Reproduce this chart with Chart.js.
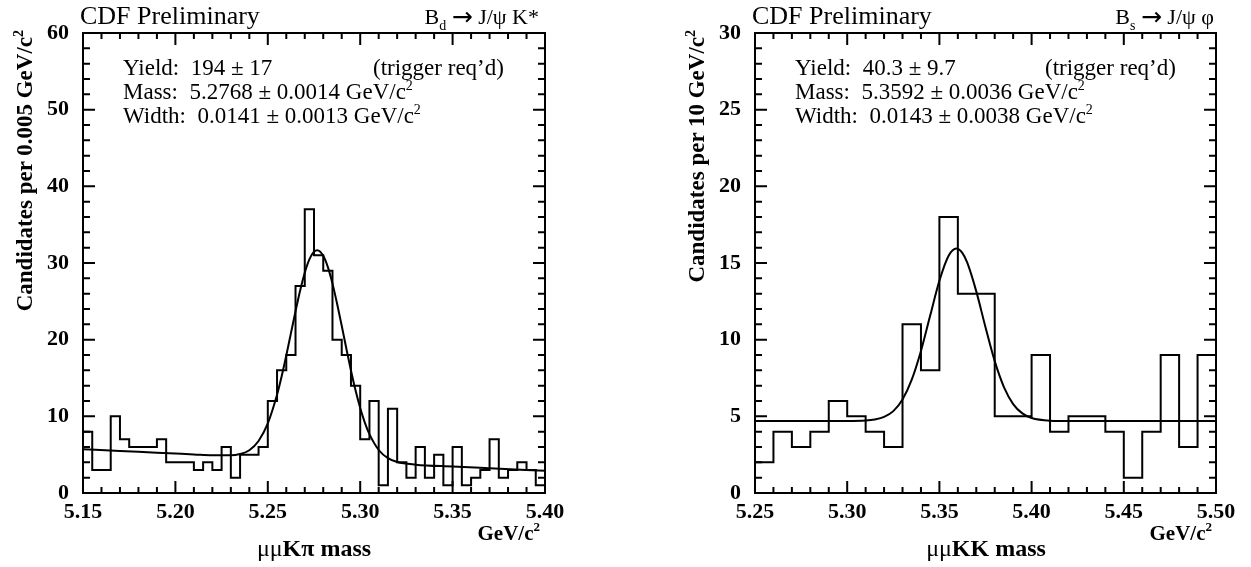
<!DOCTYPE html>
<html>
<head>
<meta charset="utf-8">
<script src="https://cdn.jsdelivr.net/npm/chart.js@4.4.1/dist/chart.umd.min.js"></script>
<style>
  html, body { margin:0; padding:0; background:#fff; }
  #fig { position:relative; width:1251px; height:567px; overflow:hidden;
         font-family:'Liberation Serif','Times New Roman',serif; color:#000; }
  canvas { position:absolute; top:0; }
  .panel { position:absolute; top:0; height:567px; width:600px; }
  .t { position:absolute; white-space:pre; line-height:1; }
  .cdf { font-size:26px; left:80px; top:3px; }
  .decay { font-size:22px; top:3px; width:260px; text-align:right; }
  .arr { font-family:'DejaVu Sans',sans-serif; font-size:25px; position:relative; top:1px; }
  .stat { font-size:23px; }
  .sup { position:relative; font-size:14px; top:-9px; }
  .sub { position:relative; font-size:14px; top:6px; }
  .ytitle { font-size:23px; font-weight:bold; left:12px; top:490px; width:460px; line-height:26px;
            text-align:right; transform-origin:0 0; transform:rotate(-90deg); }
  .xtitle { font-size:24px; font-weight:bold; left:174px; width:280px; top:536px; text-align:center; }
  .xunit { font-size:21px; font-weight:bold; left:400px; width:140px; top:523px; text-align:right; }
  .nb { font-weight:normal; }
</style>
</head>
<body>
<div id="fig">
  <canvas id="c-bd" width="625" height="567" style="left:0"></canvas>
  <canvas id="c-bs" width="579" height="567" style="left:672px"></canvas>

  <div class="panel" style="left:0">
    <div class="t cdf">CDF Preliminary</div>
    <div class="t decay" style="left:279px">B<span class="sub">d</span> <span class="arr">→</span> J/ψ K*</div>
    <div class="t stat" style="left:123px;top:56px">Yield:  194 ± 17</div>
    <div class="t stat" style="left:373px;top:56px">(trigger req’d)</div>
    <div class="t stat" style="left:123px;top:80px">Mass:  5.2768 ± 0.0014 GeV/c<span class="sup">2</span></div>
    <div class="t stat" style="left:123px;top:104px">Width:  0.0141 ± 0.0013 GeV/c<span class="sup">2</span></div>
    <div class="t ytitle">Candidates per 0.005 GeV/c<span class="sup" style="font-size:14px">2</span></div>
    <div class="t xtitle"><span class="nb">μμ</span>Kπ mass</div>
    <div class="t xunit">GeV/c<span class="sup" style="font-size:13px">2</span></div>
  </div>

  <div class="panel" style="left:672px">
    <div class="t cdf">CDF Preliminary</div>
    <div class="t decay" style="left:282px">B<span class="sub">s</span> <span class="arr">→</span> J/ψ φ</div>
    <div class="t stat" style="left:123px;top:56px">Yield:  40.3 ± 9.7</div>
    <div class="t stat" style="left:373px;top:56px">(trigger req’d)</div>
    <div class="t stat" style="left:123px;top:80px">Mass:  5.3592 ± 0.0036 GeV/c<span class="sup">2</span></div>
    <div class="t stat" style="left:123px;top:104px">Width:  0.0143 ± 0.0038 GeV/c<span class="sup">2</span></div>
    <div class="t ytitle">Candidates per 10 GeV/c<span class="sup" style="font-size:14px">2</span></div>
    <div class="t xtitle"><span class="nb">μμ</span>KK mass</div>
    <div class="t xunit">GeV/c<span class="sup" style="font-size:13px">2</span></div>
  </div>
</div>

<script>
// ---- Bd -> J/psi K*  (bins of 0.005 GeV, from 5.15) ----
const BD_LO = 5.15, BD_W = 0.005;
const bdCounts = [
  8, 3, 3, 10, 7, 6, 6, 6, 7, 4,
  4, 4, 3, 4, 3, 6, 2, 5, 5, 6,
  12, 16, 18, 27, 37, 31, 29, 20, 18, 14,
  7, 12, 1, 11, 4, 2, 6, 2, 5, 1,
  6, 1, 2, 3, 7, 2, 3, 4, 3, 1,
];
const bdFitX = [5.15, 5.17, 5.19, 5.21, 5.22, 5.23, 5.235, 5.24, 5.245, 5.25,
  5.255, 5.2575, 5.26, 5.2625, 5.265, 5.2675, 5.27, 5.2725, 5.275, 5.2768,
  5.28, 5.2825, 5.285, 5.2875, 5.29, 5.2925, 5.295, 5.2975, 5.30, 5.3025,
  5.305, 5.31, 5.315, 5.32, 5.33, 5.35, 5.37, 5.40];
const bdFitY = [5.70, 5.48, 5.25, 5.03, 4.92, 4.91, 5.08, 5.58, 6.79, 9.08,
  12.81, 15.23, 17.94, 20.82, 23.70, 26.42, 28.74, 30.48, 31.47, 31.67,
  30.94, 29.46, 27.31, 24.69, 21.81, 18.84, 15.98, 13.36, 11.09, 9.19,
  7.67, 5.61, 4.55, 4.04, 3.70, 3.45, 3.23, 2.89];
const bdXTicks = [5.15, 5.20, 5.25, 5.30, 5.35, 5.40];
const bdYTicks = [0, 10, 20, 30, 40, 50, 60];

// ---- Bs -> J/psi phi  (bins of 0.01 GeV, from 5.25) ----
const BS_LO = 5.25, BS_W = 0.01;
const bsCounts = [
  2, 4, 3, 4, 6, 5, 4, 3, 11, 8,
  18, 13, 13, 5, 5, 9, 4, 5, 5, 4,
  1, 4, 9, 3, 9,
];
const bsFitX = [5.25, 5.30, 5.31, 5.315, 5.32, 5.325, 5.33, 5.335, 5.34, 5.345,
  5.35, 5.355, 5.3592, 5.3625, 5.365, 5.37, 5.375, 5.38, 5.385, 5.39,
  5.395, 5.40, 5.41, 5.42, 5.50];
const bsFitY = [4.70, 4.70, 4.73, 4.80, 4.96, 5.34, 6.10, 7.39, 9.26, 11.57,
  13.84, 15.47, 15.94, 15.64, 15.05, 13.15, 10.81, 8.60, 6.91, 5.80,
  5.19, 4.89, 4.72, 4.70, 4.70];
const bsXTicks = [5.25, 5.30, 5.35, 5.40, 5.45, 5.50];
const bsYTicks = [0, 5, 10, 15, 20, 25, 30];

// ---- helpers ----
function histPoints(lo, w, counts) {
  const pts = counts.map((c, i) => ({ x: lo + i * w, y: c }));
  pts.push({ x: lo + counts.length * w, y: counts[counts.length - 1] });
  return pts;
}

function zip(xs, ys) {
  return xs.map((x, i) => ({ x: x, y: ys[i] }));
}

// frame + ROOT-style inward ticks on all four sides
const frameTicks = {
  id: 'frameTicks',
  afterDraw(chart, args, o) {
    const { ctx, chartArea: a, scales: { x, y } } = chart;
    ctx.save();
    ctx.strokeStyle = '#000';
    ctx.lineWidth = 2;
    ctx.beginPath();
    const nx = Math.round((x.max - x.min) / o.xMinor);
    for (let i = 0; i <= nx; i++) {
      const px = x.getPixelForValue(x.min + i * o.xMinor);
      const len = i % o.xEvery === 0 ? 12 : 6;
      ctx.moveTo(px, a.bottom); ctx.lineTo(px, a.bottom - len);
      ctx.moveTo(px, a.top);    ctx.lineTo(px, a.top + len);
    }
    const ny = Math.round((y.max - y.min) / o.yMinor);
    for (let i = 0; i <= ny; i++) {
      const py = y.getPixelForValue(y.min + i * o.yMinor);
      const len = i % o.yEvery === 0 ? 12 : 7;
      ctx.moveTo(a.left, py);  ctx.lineTo(a.left + len, py);
      ctx.moveTo(a.right, py); ctx.lineTo(a.right - len, py);
    }
    ctx.stroke();
    ctx.strokeRect(a.left, a.top, a.right - a.left, a.bottom - a.top);
    ctx.restore();
  }
};

const tickFont = { family: 'Liberation Serif', size: 22, weight: 'bold' };

function makeChart(id, c) {
  return new Chart(document.getElementById(id).getContext('2d'), {
    type: 'line',
    data: {
      datasets: [
        { data: zip(c.fitX, c.fitY), borderColor: '#000', borderWidth: 2,
          pointRadius: 0, fill: false, cubicInterpolationMode: 'monotone' },
        { data: histPoints(c.lo, c.w, c.counts), borderColor: '#000', borderWidth: 2,
          pointRadius: 0, fill: false, stepped: true },
      ]
    },
    plugins: [frameTicks],
    options: {
      responsive: false, animation: false, devicePixelRatio: 1,
      layout: { padding: { left: 0, right: c.padRight, top: 33, bottom: 0 } },
      plugins: {
        legend: { display: false }, tooltip: { enabled: false },
        frameTicks: { xMinor: 0.01, xEvery: 5, yMinor: c.yMinor, yEvery: 5 },
      },
      scales: {
        x: {
          type: 'linear', min: c.xTicks[0], max: c.xTicks[c.xTicks.length - 1],
          grid: { display: false, drawTicks: false }, border: { display: false },
          ticks: { font: tickFont, color: '#000', padding: 6, autoSkip: false,
                   maxRotation: 0, minRotation: 0, callback: v => v.toFixed(2) },
          afterBuildTicks: s => { s.ticks = c.xTicks.map(v => ({ value: v })); },
          afterFit: s => { s.height = 74; },
        },
        y: {
          type: 'linear', min: c.yTicks[0], max: c.yTicks[c.yTicks.length - 1],
          grid: { display: false, drawTicks: false }, border: { display: false },
          ticks: { font: tickFont, color: '#000', padding: 14, autoSkip: false,
                   callback: v => String(v) },
          afterBuildTicks: s => { s.ticks = c.yTicks.map(v => ({ value: v })); },
          afterFit: s => { s.width = 83; },
        },
      },
    },
  });
}

// ---- charts ----
makeChart('c-bd', { lo: BD_LO, w: BD_W, counts: bdCounts, fitX: bdFitX, fitY: bdFitY,
  xTicks: bdXTicks, yTicks: bdYTicks, yMinor: 2, padRight: 80 });
makeChart('c-bs', { lo: BS_LO, w: BS_W, counts: bsCounts, fitX: bsFitX, fitY: bsFitY,
  xTicks: bsXTicks, yTicks: bsYTicks, yMinor: 1, padRight: 35 });
</script>
</body>
</html>
